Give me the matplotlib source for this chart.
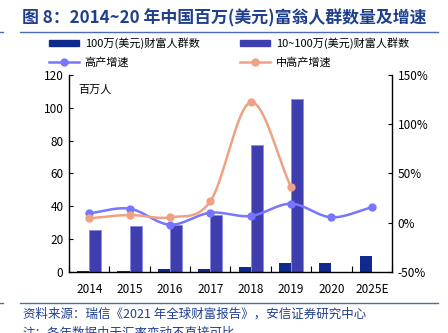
import numpy as np
import matplotlib
matplotlib.use('Agg')
from matplotlib import pyplot as plt
from matplotlib.lines import Line2D
from matplotlib.patches import Patch

plt.rcParams['font.family'] = ['Noto Sans CJK SC', 'DejaVu Sans']

# data
years = ['2014', '2015', '2016', '2017', '2018', '2019', '2020', '2025E']
rich_100 = [1.0, 1.0, 1.8, 1.9, 3.2, 5.5, 5.5, 9.7]          # 100万(美元)财富人群数, 百万人
rich_10_100 = [25.7, 28.3, 28.9, 34.8, 77.1, 105.0, np.nan, np.nan]  # 10~100万(美元)
high_growth = [9.7, 14.4, -1.8, 10.3, 7.0, 19.4, 5.7, 15.8]  # 高产增速, %
mid_growth = [4.6, 8.0, 5.7, 21.8, 122.0, 36.3]              # 中高产增速, %

navy = '#10298C'
purple = '#3E3EAE'
blue_line = '#7676FF'
orange_line = '#EFA283'
title_blue = '#1F3F8F'


def smooth(x, y, n=30):
    # catmull-rom style curve through the points (like excel's smoothed line)
    x = np.asarray(x, float)
    y = np.asarray(y, float)
    px = np.concatenate([[2 * x[0] - x[1]], x, [2 * x[-1] - x[-2]]])
    py = np.concatenate([[2 * y[0] - y[1]], y, [2 * y[-1] - y[-2]]])
    xs, ys = [], []
    for i in range(1, len(px) - 2):
        t = np.linspace(0, 1, n)
        for p, out in ((px, xs), (py, ys)):
            p0, p1, p2, p3 = p[i - 1], p[i], p[i + 1], p[i + 2]
            out.append(0.5 * (2 * p1 + (-p0 + p2) * t
                              + (2 * p0 - 5 * p1 + 4 * p2 - p3) * t ** 2
                              + (-p0 + 3 * p1 - 3 * p2 + p3) * t ** 3))
    return np.concatenate(xs), np.concatenate(ys)


fig = plt.figure(figsize=(4.48, 3.33), dpi=100)
ax = fig.add_axes([0.154, 0.1823, 0.721, 0.5934])
ax2 = ax.twinx()

x = np.arange(len(years))
w = 0.3
ax.bar(x - w / 2, rich_100, w, color=navy, zorder=2)
ax.bar(x + w / 2, rich_10_100, w, color=purple, edgecolor='#8A8AE6', linewidth=0.6, zorder=2)

ax.set_xlim(-0.5, len(years) - 0.5)
ax.set_ylim(0, 120)
ax.set_yticks(np.arange(0, 121, 20))
ax.set_xticks(x)
ax.set_xticklabels(years)
ax.set_xticks(np.arange(-0.5, len(years), 1), minor=True)
ax.tick_params(axis='x', which='major', length=0, pad=8, labelsize=8.5)
ax.tick_params(axis='x', which='minor', length=4, direction='in', width=0.8)
ax.tick_params(axis='y', length=3, direction='in', labelsize=8.5, pad=4)
for s in ['top', 'right']:
    ax.spines[s].set_visible(False)
ax.spines['left'].set_linewidth(1.0)
ax.spines['bottom'].set_linewidth(1.0)
ax.text(0.03, 0.95, '百万人', transform=ax.transAxes, fontsize=8, va='top', ha='left')

sx, sy = smooth(x, high_growth)
ax2.plot(sx, sy, color=blue_line, lw=1.8, zorder=3)
ax2.plot(x, high_growth, 'o', color=blue_line, ms=5, zorder=4)
xm = x[:len(mid_growth)]
sx, sy = smooth(xm, mid_growth)
ax2.plot(sx, sy, color=orange_line, lw=1.8, zorder=3)
ax2.plot(xm, mid_growth, 'o', color=orange_line, ms=5, zorder=4)

ax2.set_ylim(-50, 150)
ax2.set_yticks([-50, 0, 50, 100, 150])
ax2.set_yticklabels(['-50%', '0%', '50%', '100%', '150%'])
ax2.tick_params(axis='y', length=3, direction='in', labelsize=8.5, pad=4)
for s in ['top', 'left', 'bottom']:
    ax2.spines[s].set_visible(False)
ax2.spines['right'].set_linewidth(1.0)

# title and rules
fig.text(0.049, 0.945, '图 8：2014~20 年中国百万(美元)富翁人群数量及增速', fontsize=12.2,
         fontweight='bold', color=title_blue, ha='left', va='center')
fig.add_artist(Line2D([20 / 448, 438 / 448], [1 - 32 / 333] * 2, color='#4A6BB5', lw=1.0))
fig.add_artist(Line2D([0, 3 / 448], [1 - 32 / 333] * 2, color='#4A6BB5', lw=1.0))
fig.add_artist(Line2D([20 / 448, 438 / 448], [1 - 303 / 333] * 2, color='#4A6BB5', lw=1.0))
fig.add_artist(Line2D([0, 3 / 448], [1 - 303 / 333] * 2, color='#4A6BB5', lw=1.0))

handles = [Patch(color=navy), Line2D([], [], color=blue_line, lw=1.8, marker='o', ms=5),
           Patch(color=purple), Line2D([], [], color=orange_line, lw=1.8, marker='o', ms=5)]
labels = ['100万(美元)财富人群数', '高产增速', '10~100万(美元)财富人群数', '中高产增速']
fig.legend(handles, labels, ncol=2, loc='upper left', bbox_to_anchor=(0.096, 0.905),
           frameon=False, fontsize=8, handlelength=2.7, handleheight=0.45,
           columnspacing=3.6, labelspacing=0.75, handletextpad=0.55, borderpad=0)

fig.text(0.051, 0.058, '资料来源：瑞信《2021 年全球财富报告》，安信证券研究中心', fontsize=9,
         style='italic', color=title_blue, ha='left', va='center')
fig.text(0.051, 0.0, '注：各年数据由于汇率变动不直接可比', fontsize=9,
         style='italic', color=title_blue, ha='left', va='center')

fig.savefig('out.png', dpi=100)
